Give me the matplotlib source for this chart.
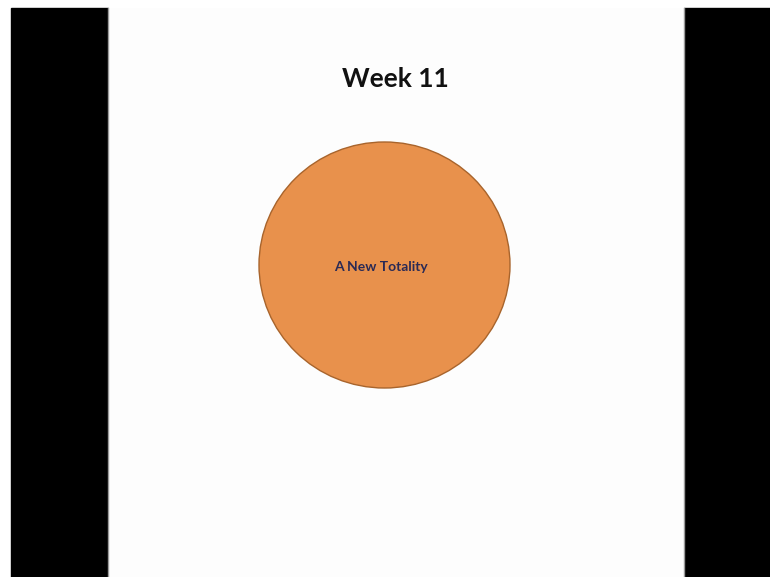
import matplotlib
matplotlib.use('Agg')
import matplotlib.pyplot as plt
from matplotlib.patches import Rectangle, Ellipse

# slide content
title = "Week 11"
bubble_labels = ["A New Totality"]

W, H = 770, 577
fig = plt.figure(figsize=(W / 100, H / 100), dpi=100)
ax = fig.add_axes([0, 0, 1, 1])
ax.set_xlim(0, W)
ax.set_ylim(H, 0)
ax.axis('off')

# black letterbox bars and the slide
ax.add_patch(Rectangle((11, 8), 97, H - 8, color='black'))
ax.add_patch(Rectangle((684, 8), W - 684, H - 8, color='black'))
ax.add_patch(Rectangle((108, 8), 576, H - 8, facecolor='#fdfdfd', edgecolor='none'))
ax.plot([108, 108], [8, H], color='#9a9a9a', lw=1)
ax.plot([684, 684], [8, H], color='#9a9a9a', lw=1)

ax.text(395, 79, title, ha='center', va='center', fontsize=19,
        family=['Lato', 'DejaVu Sans'], fontweight='bold', color='#111111')

for lab in bubble_labels:
    ax.add_patch(Ellipse((384.5, 265), 251, 246, facecolor='#e8914c',
                         edgecolor='#a8642c', lw=1.0))
    ax.text(381, 267, lab, ha='center', va='center', fontsize=10,
            family=['Lato', 'DejaVu Sans'], fontweight='bold', color='#2a2a55')

fig.savefig("out.png", dpi=100, facecolor='white')
